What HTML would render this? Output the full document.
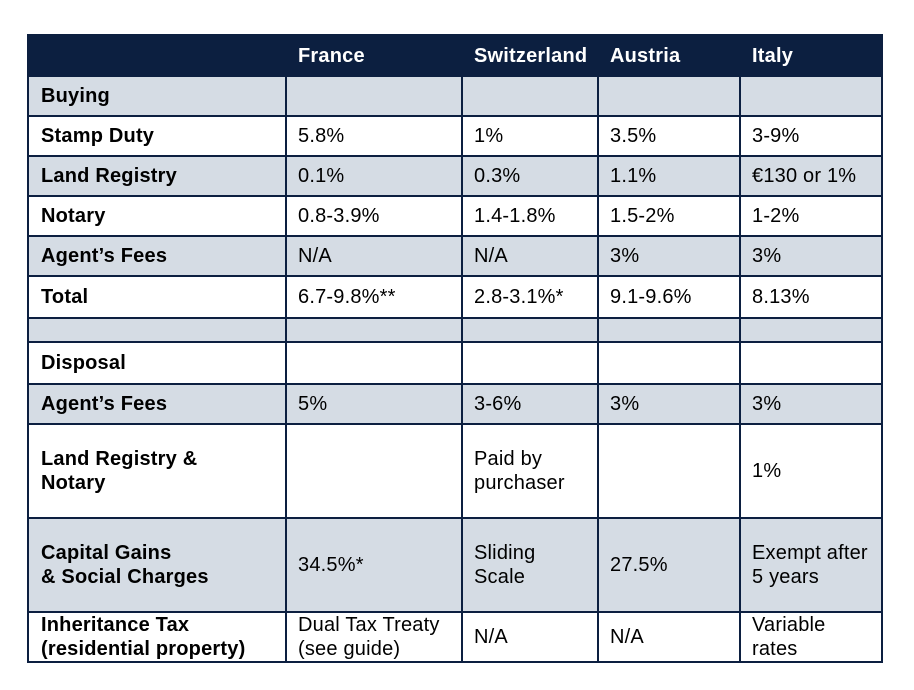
<!DOCTYPE html>
<html><head><style>
html,body{margin:0;padding:0;background:#fff;width:914px;height:690px;overflow:hidden}
table{position:absolute;left:27px;top:34px;border-collapse:collapse;table-layout:fixed;font-family:"Liberation Sans",sans-serif;font-size:20px;letter-spacing:0.2px;color:#000}
td{border:2px solid #0c1f40;padding:0 0 0 11px;vertical-align:middle;line-height:24px;overflow:hidden;white-space:nowrap}
tr.h td{background:#0c1f40;color:#fff;font-weight:bold;border-color:#0c1f40}
tr.g td{background:#d5dce4}
td.b{font-weight:bold;padding-left:12px}
</style></head><body>
<table>
<colgroup><col style="width:258px"><col style="width:176px"><col style="width:136px"><col style="width:142px"><col style="width:142px"></colgroup>
<tr class="h" style="height:41px"><td></td><td>France</td><td>Switzerland</td><td>Austria</td><td>Italy</td></tr>
<tr class="g" style="height:40px"><td class="b">Buying</td><td></td><td></td><td></td><td></td></tr>
<tr style="height:40px"><td class="b">Stamp Duty</td><td>5.8%</td><td>1%</td><td>3.5%</td><td>3-9%</td></tr>
<tr class="g" style="height:40px"><td class="b">Land Registry</td><td>0.1%</td><td>0.3%</td><td>1.1%</td><td>€130 or 1%</td></tr>
<tr style="height:40px"><td class="b">Notary</td><td>0.8-3.9%</td><td>1.4-1.8%</td><td>1.5-2%</td><td>1-2%</td></tr>
<tr class="g" style="height:40px"><td class="b">Agent’s Fees</td><td>N/A</td><td>N/A</td><td>3%</td><td>3%</td></tr>
<tr style="height:42px"><td class="b">Total</td><td>6.7-9.8%**</td><td>2.8-3.1%*</td><td>9.1-9.6%</td><td>8.13%</td></tr>
<tr class="g" style="height:24px"><td></td><td></td><td></td><td></td><td></td></tr>
<tr style="height:42px"><td class="b">Disposal</td><td></td><td></td><td></td><td></td></tr>
<tr class="g" style="height:40px"><td class="b">Agent’s Fees</td><td>5%</td><td>3-6%</td><td>3%</td><td>3%</td></tr>
<tr style="height:94px"><td class="b">Land Registry &amp;<br>Notary</td><td></td><td>Paid by<br>purchaser</td><td></td><td>1%</td></tr>
<tr class="g" style="height:94px"><td class="b">Capital Gains<br>&amp; Social Charges</td><td>34.5%*</td><td>Sliding<br>Scale</td><td>27.5%</td><td>Exempt after<br>5 years</td></tr>
<tr style="height:48px"><td class="b">Inheritance Tax<br>(residential property)</td><td>Dual Tax Treaty<br>(see guide)</td><td>N/A</td><td>N/A</td><td>Variable<br>rates</td></tr>
</table>
</body></html>
